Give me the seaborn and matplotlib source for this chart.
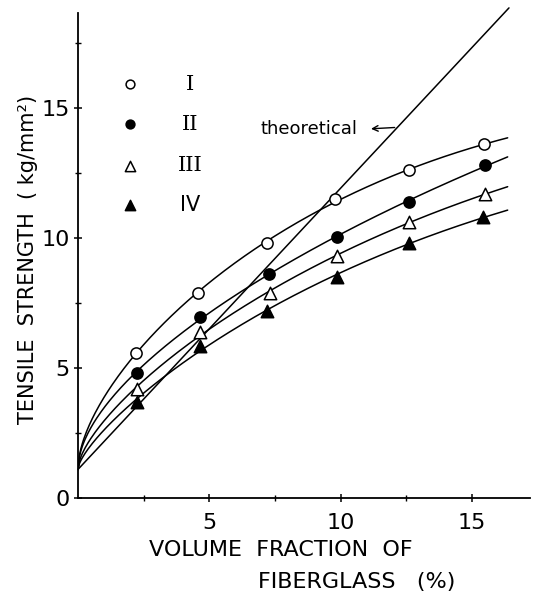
import numpy as np
import pandas as pd
import matplotlib
matplotlib.use("Agg")
import matplotlib.pyplot as plt
import seaborn as sns

# ---- data ----
x_I = [2.2, 4.56, 7.2, 9.77, 12.6, 15.44]
y_I = [5.58, 7.9, 9.8, 11.5, 12.6, 13.6]
x_II = [2.24, 4.64, 7.26, 9.85, 12.6, 15.5]
y_II = [4.8, 6.97, 8.6, 10.04, 11.4, 12.8]
x_III = [2.24, 4.64, 7.3, 9.85, 12.6, 15.5]
y_III = [4.2, 6.4, 7.9, 9.3, 10.6, 11.7]
x_IV = [2.24, 4.64, 7.2, 9.85, 12.6, 15.4]
y_IV = [3.7, 5.85, 7.2, 8.5, 9.8, 10.8]
matrix_strength = 1.1          # common start of the curves at 0 %
curve_end_x = 16.35
x_theory = [0.0, 16.4]
y_theory = [1.1, 18.85]
series_names = ["I", "II", "III", "IV"]
x_ticks = [5, 10, 15]
y_ticks = [0, 5, 10, 15]

sns.set_style("ticks")
plt.rcParams["font.family"] = ["DejaVu Sans"]
plt.rcParams["text.color"] = "black"
plt.rcParams["axes.labelcolor"] = "black"
plt.rcParams["xtick.color"] = "black"
plt.rcParams["ytick.color"] = "black"
plt.rcParams["axes.edgecolor"] = "black"

fig = plt.figure(figsize=(5.35, 6.02), dpi=100)
ax = fig.add_axes([78 / 535, 104 / 602, 452 / 535, 494 / 602])

series = [(x_I, y_I, "o", "white"), (x_II, y_II, "o", "black"),
          (x_III, y_III, "^", "white"), (x_IV, y_IV, "^", "black")]

# smooth fitted curves (cubic in sqrt(x)) through each series
for xs, ys, m, fc in series:
    xa = np.r_[0.0, xs]
    ya = np.r_[matrix_strength, ys]
    coef = np.polyfit(np.sqrt(xa), ya, 3)
    xf = np.linspace(0, curve_end_x, 300)
    df = pd.DataFrame({"x": xf, "y": np.polyval(coef, np.sqrt(xf))})
    sns.lineplot(data=df, x="x", y="y", ax=ax, color="black", lw=1.1,
                 estimator=None, sort=False)

# theoretical line
sns.lineplot(x=x_theory, y=y_theory, ax=ax, color="black", lw=1.1,
             estimator=None, sort=False).lines[-1].set_clip_on(False)

# markers
for xs, ys, m, fc in series:
    sz = 65 if m == "o" else 80
    sns.scatterplot(x=xs, y=ys, ax=ax, marker=m, s=sz, facecolor=fc,
                    edgecolor="black", linewidth=1.1, zorder=5)

# legend drawn as in the figure
leg_y = [15.92, 14.38, 12.77, 11.27]
for (xs, ys, m, fc), name, ly in zip(series, series_names, leg_y):
    sz = 40 if m == "o" else 55
    ax.scatter([1.98], [ly], marker=m, s=sz, facecolor=fc,
               edgecolor="black", linewidth=1.1, zorder=5)
    fam = "DejaVu Sans" if name == "IV" else "DejaVu Serif"
    ax.text(4.26, ly, name, ha="center", va="center", fontsize=15,
            family=fam)

# theoretical annotation
ax.text(10.62, 14.2, "theoretical", ha="right", va="center", fontsize=13)
ax.annotate("", xy=(11.15, 14.2), xytext=(12.05, 14.25),
            arrowprops=dict(arrowstyle="->", lw=1.0, color="black",
                            shrinkA=0, shrinkB=0))

ax.set_xlim(0, 17.2)
ax.set_ylim(0, 19)
ax.spines["right"].set_visible(False)
ax.spines["top"].set_visible(False)
ax.spines["left"].set_bounds(0, 18.65)
ax.spines["left"].set_linewidth(1.3)
ax.spines["bottom"].set_linewidth(1.3)
ax.set_xticks(x_ticks)
ax.set_yticks(y_ticks)
ax.set_xticks([2.5, 7.5, 12.5], minor=True)
ax.set_yticks([2.5, 7.5, 12.5, 17.5], minor=True)
ax.tick_params(axis="both", which="major", direction="inout", length=6,
               width=1.1, labelsize=16)
ax.tick_params(axis="both", which="minor", direction="inout", length=4,
               width=1.0)
ax.tick_params(axis="x", which="major", pad=8)
ax.tick_params(axis="y", which="major", pad=3)
ax.set_xlabel("")
ax.set_ylabel("")

fig.text(281 / 535, 1 - 550 / 602, "VOLUME  FRACTION  OF", ha="center",
         va="center", fontsize=16)
fig.text(357 / 535, 1 - 582 / 602, "FIBERGLASS   (%)", ha="center",
         va="center", fontsize=16)
fig.text(28 / 535, 1 - 259 / 602, "TENSILE  STRENGTH  ( kg/mm²)",
         ha="center", va="center", rotation=90, fontsize=15)

fig.savefig("out.png", dpi=100, facecolor="white")
